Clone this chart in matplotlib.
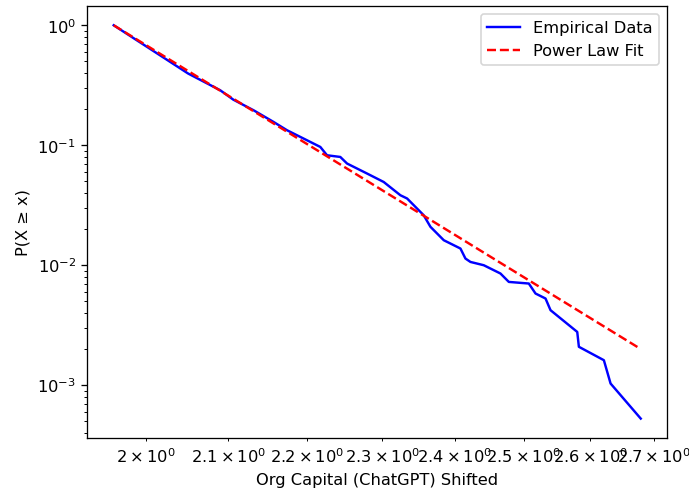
import numpy as np
import matplotlib
matplotlib.use('Agg')
import matplotlib.pyplot as plt

# Empirical CCDF, points
emp_x = [1.9624, 2.0506, 2.0898, 2.1060, 2.1314, 2.1567, 2.1739, 2.1910, 2.2171,
         2.2259, 2.2434, 2.2524, 2.2792, 2.3017, 2.3245, 2.3337, 2.3567, 2.3661,
         2.3848, 2.4084, 2.4155, 2.4227, 2.4418, 2.4660, 2.4782, 2.5076, 2.5176,
         2.5325, 2.5400, 2.5804, 2.5829, 2.6213, 2.6317, 2.6790]
emp_p = [1.0, 0.396, 0.2874, 0.240, 0.1957, 0.1564, 0.1334, 0.1174, 0.0968,
         0.0825, 0.0799, 0.0704, 0.0581, 0.0494, 0.0383, 0.0360, 0.0261, 0.0209,
         0.01616, 0.01378, 0.01137, 0.01065, 0.0100, 0.00853, 0.00726, 0.00704, 0.00581,
         0.00528, 0.00422, 0.00278, 0.00209, 0.001616, 0.001033, 0.000527]

# Power law fit (straight line on log-log), end points
fit_x = [1.9624, 2.6761]
fit_p = [1.0, 0.002046]

DPI = 116.7
fig = plt.figure(figsize=(689.4 / DPI, 494.4 / DPI), dpi=DPI)
ax = fig.add_axes([87.3 / 689, (494 - 438.3) / 494, (666.7 - 87.3) / 689, (438.3 - 6) / 494])

ax.loglog(emp_x, emp_p, color='blue', label='Empirical Data')
ax.loglog(fit_x, fit_p, '--', color='red', label='Power Law Fit')

ax.set_xlabel('Org Capital (ChatGPT) Shifted')
ax.set_ylabel('P(X ≥ x)')
ax.legend(loc='upper right')

fig.savefig('out.png', dpi=DPI)
